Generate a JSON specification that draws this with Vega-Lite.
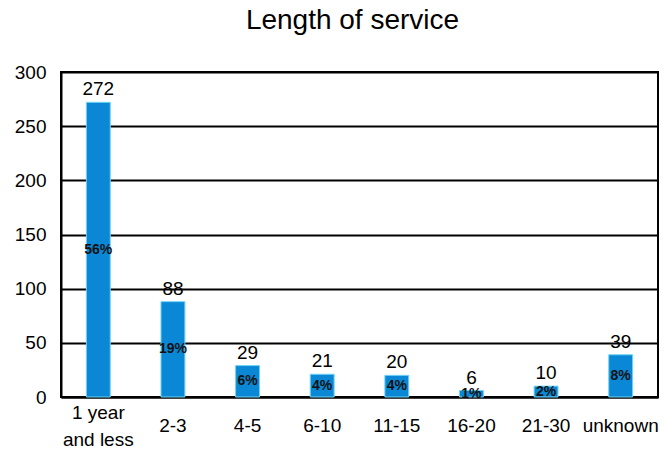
{
  "$schema": "https://vega.github.io/schema/vega-lite/v6.json",
  "autosize": "none",
  "width": 597,
  "height": 325,
  "padding": {"left": 61, "top": 72, "right": 7, "bottom": 52},
  "background": "white",
  "title": {"text": "Length of service", "font": "Liberation Sans", "fontSize": 28, "fontWeight": "normal", "color": "black", "offset": 28, "frame": "group", "anchor": "middle", "dx": -7},
  "config": {"view": {"stroke": "black", "strokeWidth": 2}, "font": "Liberation Sans"},
  "data": {"values": [
    {"cat": "1 year and less", "n": 272, "pct": "56%"},
    {"cat": "2-3", "n": 88, "pct": "19%"},
    {"cat": "4-5", "n": 29, "pct": "6%"},
    {"cat": "6-10", "n": 21, "pct": "4%"},
    {"cat": "11-15", "n": 20, "pct": "4%"},
    {"cat": "16-20", "n": 6, "pct": "1%"},
    {"cat": "21-30", "n": 10, "pct": "2%"},
    {"cat": "unknown", "n": 39, "pct": "8%"}
  ]},
  "encoding": {
    "x": {"field": "cat", "type": "nominal", "sort": null,
      "scale": {"paddingInner": 0.68, "paddingOuter": 0.34},
      "axis": {"title": null, "labelAngle": 0, "labelFontSize": 19, "labelColor": "black",
        "labelPadding": {"condition": {"test": "datum.value == '1 year and less'", "value": 15}, "value": 28},
        "labelBaseline": "middle", "ticks": false, "domainColor": "black", "domainWidth": 2,
        "labelExpr": "datum.value == '1 year and less' ? ['1 year', 'and less'] : datum.value", "labelLineHeight": 27}}
  },
  "layer": [
    {"mark": {"type": "bar", "color": "#0a88d6", "stroke": "#6fd3f5", "strokeWidth": 1},
      "encoding": {"y": {"field": "n", "type": "quantitative",
        "scale": {"domain": [0, 300]},
        "axis": {"title": null, "values": [0, 50, 100, 150, 200, 250, 300], "labelFontSize": 19, "labelColor": "black", "labelPadding": 15, "ticks": false, "domainColor": "black", "domainWidth": 2, "grid": true, "gridColor": "black", "gridWidth": 2, "gridOpacity": 1}}}},
    {"mark": {"type": "text", "baseline": "bottom", "dy": -3, "fontSize": 19, "color": "black"},
      "encoding": {"y": {"field": "n", "type": "quantitative", "scale": {"domain": [0, 300]}, "axis": null}, "text": {"field": "n", "type": "quantitative"}}},
    {"mark": {"type": "text", "baseline": "middle", "fontSize": 14, "fontWeight": "bold", "color": "#111"},
      "encoding": {"y": {"field": "n", "type": "quantitative", "scale": {"domain": [0, 600]}, "axis": null},
        "text": {"field": "pct", "type": "nominal"}}}
  ],
  "resolve": {"scale": {"y": "independent"}}
}
